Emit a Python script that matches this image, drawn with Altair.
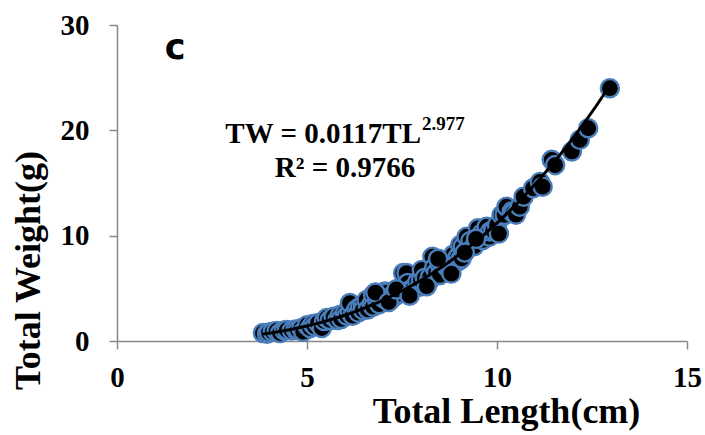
import altair as alt
import pandas as pd

# Total length (cm) and total weight (g)
TL = [3.84, 3.95, 4.00, 4.10, 4.20, 4.29, 4.40, 4.47, 4.60, 4.70, 4.76, 4.85, 4.90,
      5.00, 5.08, 5.15, 5.20, 5.29, 5.39, 5.45, 5.52, 5.60, 5.70, 5.80, 5.87, 5.90,
      6.00, 6.05, 6.13, 6.13, 6.20, 6.30, 6.35, 6.40, 6.47, 6.47, 6.57, 6.60, 6.70,
      6.74, 6.74, 6.85, 6.90, 7.00, 7.05, 7.10, 7.20, 7.26, 7.30, 7.40, 7.45, 7.50,
      7.53, 7.62, 7.65, 7.71, 7.80, 7.90, 7.97, 8.00, 8.02, 8.10, 8.20, 8.24, 8.30,
      8.35, 8.40, 8.50, 8.50, 8.60, 8.68, 8.76, 8.76, 8.85, 8.90, 8.97, 9.03, 9.03,
      9.07, 9.10, 9.20, 9.30, 9.40, 9.50, 9.60, 9.63, 9.73, 9.80, 9.82, 9.90, 10.00,
      10.12, 10.20, 10.25, 10.39, 10.43, 10.50, 10.60, 10.70, 10.95, 11.13, 11.20,
      11.44, 11.53, 11.97, 12.18, 12.40, 12.97,
      6.80, 7.15, 7.35, 7.70, 8.15, 8.45, 8.80, 9.15, 9.45, 10.05]
TW = [0.76, 0.70, 0.80, 0.88, 0.95, 0.76, 1.00, 1.04, 1.00, 1.10, 1.04, 1.20, 0.88,
      1.50, 1.23, 1.60, 1.40, 1.70, 1.23, 1.90, 2.18, 2.00, 2.30, 2.00, 2.47, 2.10,
      2.66, 2.40, 2.78, 3.60, 2.40, 3.00, 2.70, 3.26, 3.42, 2.94, 3.90, 3.00, 3.50,
      4.37, 3.26, 3.80, 3.50, 4.08, 4.70, 4.60, 3.90, 4.37, 4.20, 4.50, 4.90, 5.20,
      6.45, 6.45, 5.50, 4.84, 5.00, 5.60, 5.16, 5.80, 6.74, 6.00, 5.60, 6.10, 8.00,
      7.00, 6.50, 7.20, 6.27, 7.60, 7.06, 6.74, 7.06, 8.20, 7.40, 8.00, 9.10, 7.70,
      7.85, 8.96, 9.90, 9.50, 9.00, 10.70, 10.20, 9.60, 10.85, 9.90, 10.40, 10.50,
      11.00, 11.97, 11.97, 12.75, 12.30, 12.15, 12.00, 12.75, 13.70, 14.50, 15.10,
      14.65, 17.20, 16.70, 18.00, 19.10, 20.20, 24.00,
      4.60, 3.70, 4.90, 4.30, 5.20, 7.80, 6.40, 8.40, 9.70, 10.20]

df = pd.DataFrame({"TL": TL, "TW": TW})

serif = "Liberation Serif"

x_enc = alt.X("TL:Q", scale=alt.Scale(domain=[0, 15], nice=False),
              axis=alt.Axis(values=[0, 5, 10, 15], title="Total Length(cm)",
                            titleX=389, titleY=81, titleAlign="center",
                            titleBaseline="alphabetic", labelPadding=14,
                            labelFlush=False))
y_enc = alt.Y("TW:Q", scale=alt.Scale(domain=[0, 30], nice=False),
              axis=alt.Axis(values=[0, 10, 20, 30], title="Total Weight(g)",
                            titleX=-78, titleY=245, titleAlign="center",
                            titleBaseline="alphabetic", titleAngle=-90,
                            labelPadding=20, labelFlush=False))

points = alt.Chart(df).mark_point(
    shape="circle", filled=True, fill="black", stroke="#4a7ebb",
    strokeWidth=2.4, size=330, opacity=1, fillOpacity=1, strokeOpacity=1
).encode(x=x_enc, y=y_enc)

fit = alt.Chart(df).transform_regression(
    "TL", "TW", method="pow", extent=[3.84, 12.97]
).mark_line(color="black", strokeWidth=3).encode(x="TL:Q", y="TW:Q")

eq1 = alt.Chart(pd.DataFrame({"t": ["TW = 0.0117TL"]})).mark_text(
    font=serif, fontWeight="bold", fontSize=29, align="right",
    baseline="alphabetic", color="black"
).encode(text="t:N", x=alt.value(304), y=alt.value(118))

eq_sup = alt.Chart(pd.DataFrame({"t": ["2.977"]})).mark_text(
    font=serif, fontWeight="bold", fontSize=19, align="left",
    baseline="alphabetic", color="black"
).encode(text="t:N", x=alt.value(305), y=alt.value(105))

eq2 = alt.Chart(pd.DataFrame({"t": ["R² = 0.9766"]})).mark_text(
    font=serif, fontWeight="bold", fontSize=29, align="center",
    baseline="alphabetic", color="black"
).encode(text="t:N", x=alt.value(228), y=alt.value(152))

panel = alt.Chart(pd.DataFrame({"t": ["c"]})).mark_text(
    font="DejaVu Sans", fontWeight="bold", fontSize=35, align="center",
    baseline="alphabetic", color="black"
).encode(text="t:N", x=alt.value(58), y=alt.value(34))

chart = alt.layer(points, fit, eq1, eq_sup, eq2, panel).properties(
    width=570, height=316,
    autosize=alt.AutoSizeParams(type="none"),
    padding={"left": 117, "top": 25, "right": 18, "bottom": 94},
    background="white",
).configure_view(stroke=None).configure_axis(
    grid=False, domainColor="#898989", domainWidth=1.5, tickColor="#898989",
    tickWidth=1.5, tickSize=8, labelFont=serif, labelFontWeight="bold",
    labelFontSize=29, labelColor="black", titleFont=serif, titleFontWeight="bold",
    titleFontSize=36, titleColor="black"
)

chart.save("out.html", embed_options={"renderer": "svg", "actions": False})
